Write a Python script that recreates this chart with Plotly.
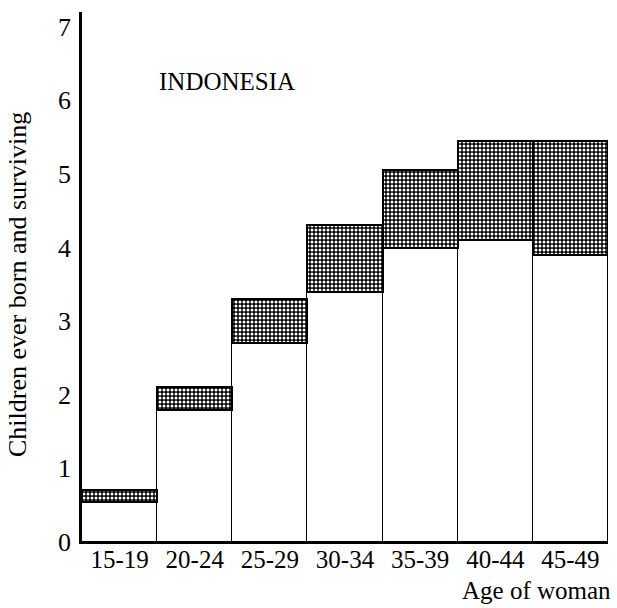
import plotly.graph_objects as go

ages = ["15-19", "20-24", "25-29", "30-34", "35-39", "40-44", "45-49"]
ever_born = [0.70, 2.10, 3.30, 4.30, 5.05, 5.45, 5.45]
surviving = [0.55, 1.80, 2.70, 3.40, 4.00, 4.10, 3.90]
dead = [round(e - s, 2) for e, s in zip(ever_born, surviving)]
y_ticks = [0, 1, 2, 3, 4, 5, 6, 7]

FONT = "Liberation Serif"

fig = go.Figure()
fig.add_trace(go.Bar(
    x=ages, y=surviving, name="Surviving",
    marker=dict(color="white", line=dict(color="black", width=1.5)),
    width=1.0,
))
fig.add_trace(go.Bar(
    x=ages, y=dead, name="Died",
    marker=dict(color="black", line=dict(color="black", width=2),
                pattern=dict(shape=".", size=4, solidity=0.45,
                             fgcolor="white", bgcolor="black", fillmode="replace")),
    width=1.0,
))

fig.update_layout(
    barmode="stack", bargap=0,
    width=617, height=608,
    margin=dict(l=82, r=9, t=12, b=66),
    paper_bgcolor="white", plot_bgcolor="white",
    showlegend=False,
    font=dict(family=FONT, color="black", size=25),
    xaxis=dict(range=[-0.5, 6.5], showline=True, linecolor="black", linewidth=1.5,
               ticks="", showgrid=False, zeroline=False, ticklabelstandoff=-6,
               tickfont=dict(family=FONT, size=25, color="black")),
    yaxis=dict(range=[0, 7.2], tickvals=y_ticks, showline=True, linecolor="black",
               linewidth=2.5, ticks="", showgrid=False, zeroline=False,
               ticklabelstandoff=3,
               tickfont=dict(family=FONT, size=26, color="black")),
    annotations=[
        dict(text="INDONESIA", xref="paper", yref="paper",
             x=(157 - 82) / 526, y=(542 - 82) / 530, xanchor="left", yanchor="middle",
             showarrow=False, font=dict(family=FONT, size=25, color="black")),
        dict(text="Age of woman", xref="paper", yref="paper",
             x=(613 - 82) / 526, y=(542 - 590) / 530, xanchor="right", yanchor="middle",
             showarrow=False, font=dict(family=FONT, size=25, color="black")),
        dict(text="Children ever born and surviving", xref="paper", yref="paper",
             x=(17 - 82) / 526, y=(542 - 285) / 530, xanchor="center", yanchor="middle",
             textangle=-90, showarrow=False,
             font=dict(family=FONT, size=26, color="black")),
    ],
)

fig.write_html("out.html", config={"displayModeBar": False},
               post_script="document.body.style.margin='0';")
